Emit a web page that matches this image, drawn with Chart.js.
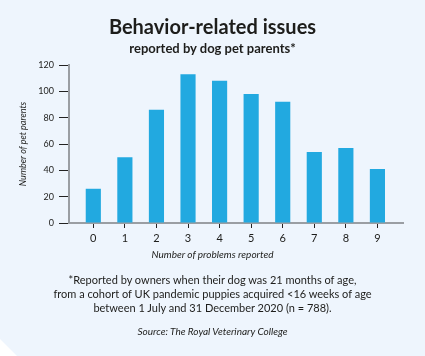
<!DOCTYPE html>
<html><head><meta charset="utf-8">
<script src="https://cdn.jsdelivr.net/npm/chart.js@4"></script>
<style>
html,body{margin:0;padding:0;}
body{width:425px;height:356px;background:#eef5fd;position:relative;overflow:hidden;font-family:Lato,sans-serif;color:#1d1d1b;}
#corner{position:absolute;left:0;bottom:0;width:17px;height:17px;background:#ffffff;clip-path:polygon(0 0,100% 100%,0 100%);}
#c{position:absolute;left:0;top:0;}
.t{position:absolute;left:0;width:425px;text-align:center;white-space:nowrap;}
#title{top:16px;font-size:20px;line-height:20px;font-weight:700;}
#sub{top:42px;font-size:13px;line-height:13px;font-weight:700;}
#xt{top:248.6px;font-size:10px;line-height:10px;font-style:italic;}
#note{top:273px;font-size:11px;line-height:14px;}
#src{top:325.8px;font-size:10px;line-height:10px;font-style:italic;}
</style></head>
<body>
<div id="corner"></div>
<canvas id="c" width="425" height="356"></canvas>
<div class="t" id="title">Behavior-related issues</div>
<div class="t" id="sub">reported by dog pet parents*</div>
<div class="t" id="xt">Number of problems reported</div>
<div class="t" id="note">*Reported by owners when their dog was 21 months of age,<br>from a cohort of UK pandemic puppies acquired &lt;16 weeks of age<br>between 1 July and 31 December 2020 (n = 788).</div>
<div class="t" id="src">Source: The Royal Veterinary College</div>
<script>
const categories = ['0','1','2','3','4','5','6','7','8','9'];
const petParents = [26, 50, 86, 113, 108, 98, 92, 54, 57, 41];
const yTicks = [0, 20, 40, 60, 80, 100, 120];

const points = categories.map((c, i) => ({x: i, y: petParents[i]}));

new Chart(document.getElementById('c'), {
  type: 'bar',
  data: {
    datasets: [{
      data: points,
      backgroundColor: '#22a9e0',
      borderWidth: 0,
      barPercentage: 0.48,
      categoryPercentage: 1
    }]
  },
  options: {
    responsive: false,
    devicePixelRatio: 1,
    animation: false,
    events: [],
    layout: {padding: {left: 0, right: 22, top: 65, bottom: 94}},
    plugins: {legend: {display: false}, tooltip: {enabled: false}, title: {display: false}},
    scales: {
      x: {
        type: 'linear',
        min: -0.77,
        max: 9.81,
        offset: false,
        z: 1,
        afterFit: s => { s.height = 39; },
        afterBuildTicks: s => { s.ticks = categories.map((c, i) => ({value: i})); },
        grid: {display: true, offset: false, drawOnChartArea: false, tickLength: 5, tickColor: '#222', tickWidth: 1},
        border: {display: true, color: '#9a9ea3', width: 2},
        ticks: {
          autoSkip: false,
          maxRotation: 0,
          padding: 4,
          color: '#1d1d1b',
          font: {family: 'Lato', size: 11},
          callback: v => categories[v]
        },
        title: {display: false}
      },
      y: {
        min: 0,
        max: 120,
        afterFit: s => { s.width = 69; },
        afterBuildTicks: s => { s.ticks = yTicks.map(v => ({value: v})); },
        grid: {display: true, drawOnChartArea: false, tickLength: 10, tickColor: '#222', tickWidth: 1},
        border: {display: true, color: '#9a9ea3', width: 2},
        ticks: {padding: 5, color: '#1d1d1b', font: {family: 'Lato', size: 9}},
        title: {
          display: true,
          text: 'Number of pet parents',
          color: '#1d1d1b',
          font: {family: 'Lato', size: 9, style: 'italic'},
          padding: {top: 17.6, bottom: 0}
        }
      }
    }
  }
});
</script>
</body></html>
